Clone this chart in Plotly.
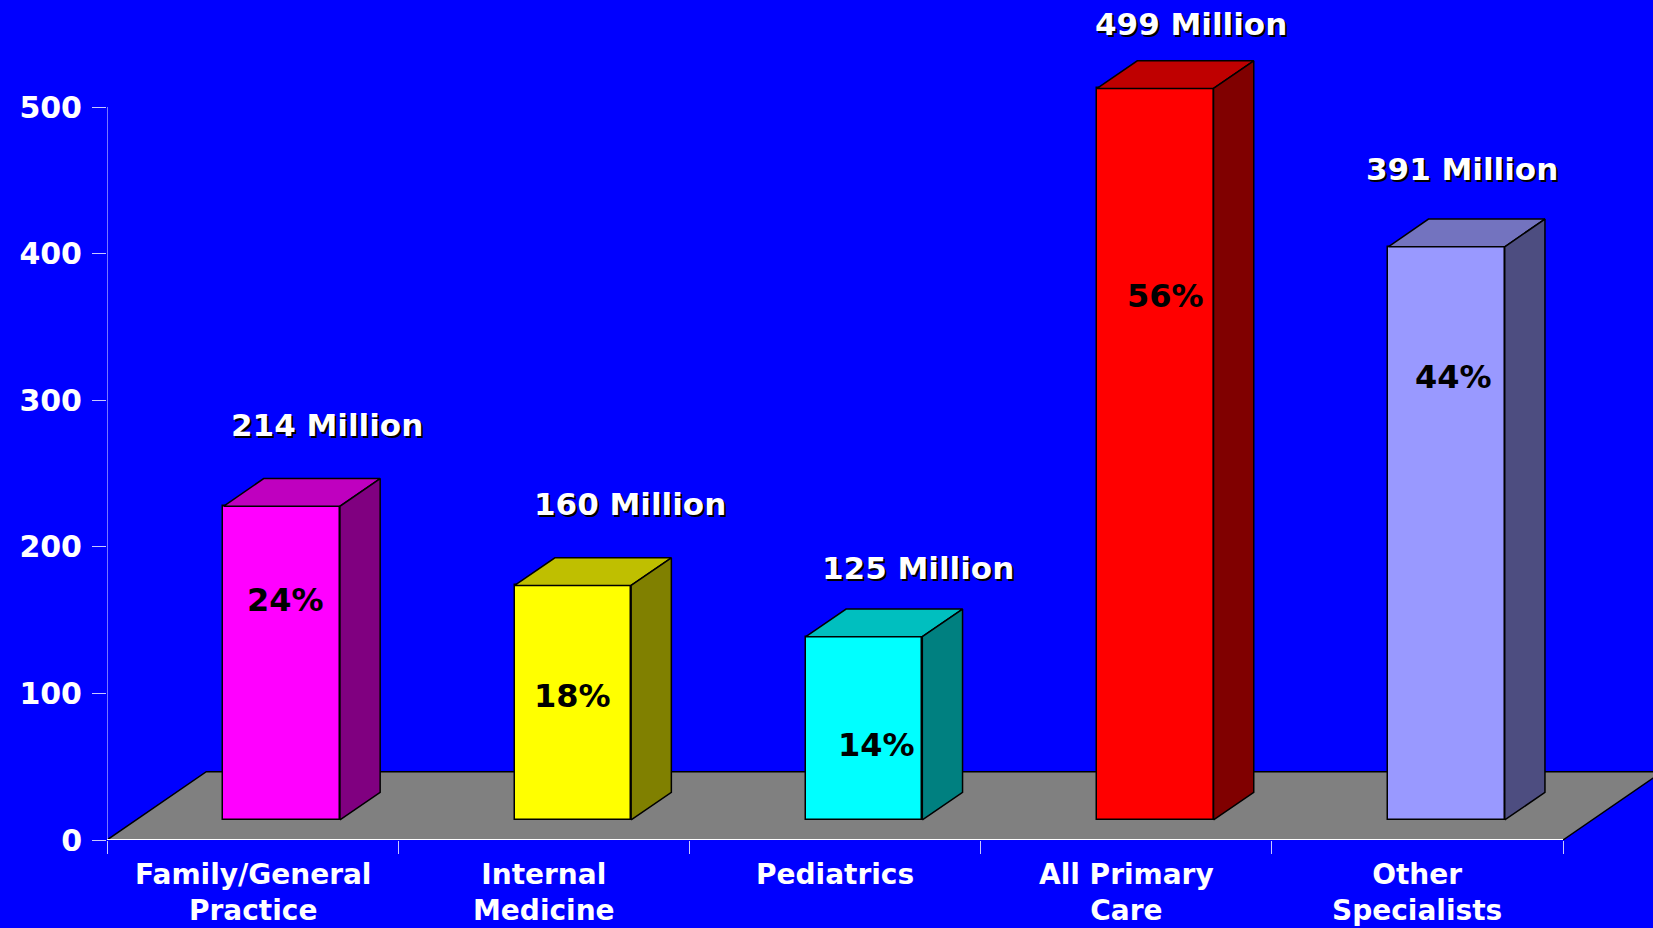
import plotly.graph_objects as go

# ---------------- data ----------------
categories = ["Family/General<br>Practice", "Internal<br>Medicine", "Pediatrics",
              "All Primary<br>Care", "Other<br>Specialists"]
values = [214, 160, 125, 499, 391]
value_labels = ["214 Million", "160 Million", "125 Million", "499 Million", "391 Million"]
pct_labels = ["24%", "18%", "14%", "56%", "44%"]
y_ticks = [0, 100, 200, 300, 400, 500]

# ---------------- styles ----------------
front_colors = ["#FF00FF", "#FFFF00", "#00FFFF", "#FF0000", "#9999FF"]
top_colors = ["#BF00BF", "#BFBF00", "#00BFBF", "#BF0000", "#7373BF"]
side_colors = ["#800080", "#808000", "#008080", "#800000", "#4D4D80"]
FONT = "DejaVu Sans"

# label placement (pixel shifts relative to the bar's front top / data-unit heights)
value_label_shift = [(45, 81), (57, 81), (54, 69), (36, 64), (16, 78)]
pct_label_y = [164, 98, 65, 371, 316]
pct_label_xshift = [4, 0, 12, 10, 7]

# ---------------- geometry ----------------
W, H = 1653, 928
ML, MB = 107, 88
PX_PER_CAT = 291.2
PX_PER_UNIT = 1.466
x_max = (W - ML) / PX_PER_CAT
y_max = (H - MB) / PX_PER_UNIT
DEPTH_DX = 99.3 / PX_PER_CAT      # depth vector, category units
DEPTH_DY = 68.3 / PX_PER_UNIT     # depth vector, value units
Z_FRONT, Z_BACK = 0.293, 0.698
BAR_W = 0.40
n = len(values)


def proj(x, y, z):
    return x + z * DEPTH_DX, y + z * DEPTH_DY


fig = go.Figure()

# floor (shape below traces)
floor_pts = [proj(0, 0, 0), proj(n, 0, 0), proj(n, 0, 1), proj(0, 0, 1)]
path = "M " + " L ".join(f"{px},{py}" for px, py in floor_pts) + " Z"
fig.add_shape(type="path", path=path, xref="x", yref="y", layer="below",
              fillcolor="#808080", line=dict(color="black", width=1.5))

# front faces
front_x = [i + 0.5 + Z_FRONT * DEPTH_DX for i in range(n)]
fig.add_trace(go.Bar(
    x=front_x, y=values, base=Z_FRONT * DEPTH_DY, width=BAR_W,
    marker=dict(color=front_colors, line=dict(color="black", width=1.5)),
    hoverinfo="skip", showlegend=False))

# top and side faces
for i, v in enumerate(values):
    xl = i + 0.5 - BAR_W / 2
    xr = i + 0.5 + BAR_W / 2
    top = [proj(xl, v, Z_FRONT), proj(xr, v, Z_FRONT), proj(xr, v, Z_BACK),
           proj(xl, v, Z_BACK), proj(xl, v, Z_FRONT)]
    side = [proj(xr, 0, Z_FRONT), proj(xr, v, Z_FRONT), proj(xr, v, Z_BACK),
            proj(xr, 0, Z_BACK), proj(xr, 0, Z_FRONT)]
    for pts, col in ((top, top_colors[i]), (side, side_colors[i])):
        fig.add_trace(go.Scatter(
            x=[p[0] for p in pts], y=[p[1] for p in pts], mode="lines",
            fill="toself", fillcolor=col, line=dict(color="black", width=1.5),
            hoverinfo="skip", showlegend=False))

# axis lines
fig.add_trace(go.Scatter(x=[0, 0], y=[y_ticks[0], y_ticks[-1]], mode="lines",
                         line=dict(color="#C8C8FF", width=1.2),
                         hoverinfo="skip", showlegend=False))
fig.add_trace(go.Scatter(x=[0, n], y=[0, 0], mode="lines",
                         line=dict(color="white", width=2),
                         hoverinfo="skip", showlegend=False))

# annotations
ann = []
for i, v in enumerate(values):
    dx, dy = value_label_shift[i]
    ann.append(dict(x=front_x[i], y=v + Z_FRONT * DEPTH_DY, xref="x", yref="y",
                    text=value_labels[i], showarrow=False, xanchor="center",
                    yanchor="middle", xshift=dx, yshift=dy,
                    font=dict(family=FONT, size=31, color="white", weight="bold",
                              shadow="2px 2px 0px black")))
    ann.append(dict(x=front_x[i], y=pct_label_y[i], xref="x", yref="y",
                    text=pct_labels[i], showarrow=False, xanchor="center",
                    yanchor="middle", xshift=pct_label_xshift[i],
                    font=dict(family=FONT, size=32, color="black", weight="bold")))
    ann.append(dict(x=i + 0.5, y=0, xref="x", yref="y", text=categories[i],
                    showarrow=False, xanchor="center", yanchor="top", yshift=-16,
                    font=dict(family=FONT, size=28, color="white", weight="bold")))

fig.update_layout(
    width=W, height=H,
    margin=dict(l=ML, r=0, t=0, b=MB, pad=0),
    paper_bgcolor="#0000FF", plot_bgcolor="#0000FF",
    showlegend=False, annotations=ann, bargap=0,
    xaxis=dict(range=[0, x_max], tickvals=list(range(n + 1)), ticks="outside",
               ticklen=13, tickwidth=1.2, tickcolor="#C8C8FF",
               showticklabels=False, showgrid=False, zeroline=False,
               showline=False, fixedrange=True),
    yaxis=dict(range=[0, y_max], tickvals=y_ticks, ticks="outside",
               ticklen=14, tickwidth=1.2, tickcolor="#C8C8FF",
               tickfont=dict(family=FONT, size=30, color="white", weight="bold"),
               ticklabelstandoff=4,
               showgrid=False, zeroline=False, showline=False, fixedrange=True),
)

fig.write_html("out.html")
